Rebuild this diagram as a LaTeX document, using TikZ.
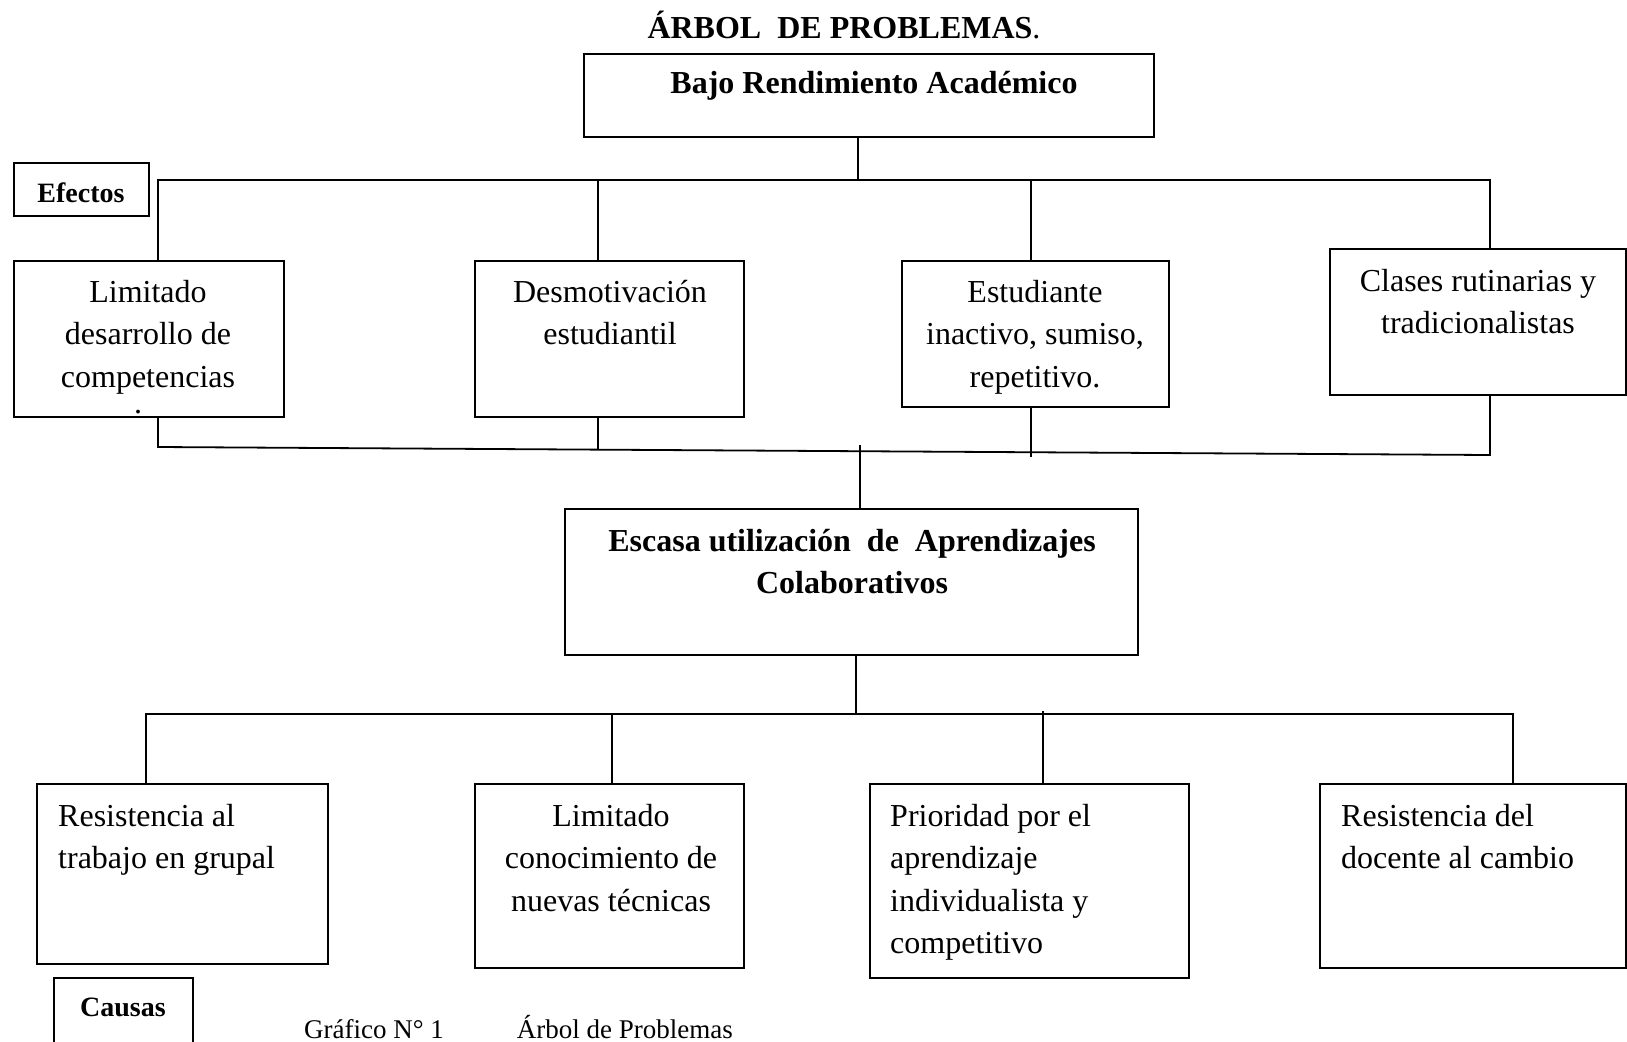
\documentclass[tikz,border=0pt]{standalone}
\usepackage{fontspec}
\setmainfont{Liberation Serif}
\usetikzlibrary{fit}

\tikzset{
  caja/.style={draw, line width=2pt, inner sep=0pt},
  rama/.style={line width=1.8pt},
  texto/.style={inner sep=0pt, font=\fontsize{32}{42.5}\selectfont},
  negrita/.style={inner sep=0pt, font=\fontsize{32}{42.5}\selectfont\bfseries},
  rotulo/.style={inner sep=0pt, font=\fontsize{28}{34}\selectfont\bfseries},
}

\begin{document}
\begin{tikzpicture}[x=1pt,y=-1pt]
	\useasboundingbox (0,0) rectangle (1627,1041);

	% Title
	\node[negrita, anchor=base] (titulo) at (844,39) {ÁRBOL\ \ DE PROBLEMAS\textmd{.}};

	% Main effect on top
	\node[caja, fit={(584,54) (1154,137)}] (bajo) {};
	\node[negrita, anchor=base] (bajot) at (874,93) {Bajo Rendimiento Académico};

	% Efectos label
	\node[caja, fit={(14,163) (149,216)}] (efectos) {};
	\node[rotulo, anchor=base] (efectost) at (81,202) {Efectos};

	% Effect boxes
	\node[caja, fit={(14,261) (284,417)}] (lim) {};
	\node[caja, fit={(475,261) (744,417)}] (des) {};
	\node[caja, fit={(902,261) (1169,407)}] (est) {};
	\node[caja, fit={(1330,249) (1626,395)}] (cla) {};

	\node[texto, align=center, anchor=north] (limt) at (148,280) {Limitado\\desarrollo de\\competencias};
	\node[texto, anchor=base] (punto) at (138,413) {.};
	\node[texto, align=center, anchor=north] (dest) at (610,280) {Desmotivación\\estudiantil};
	\node[texto, align=center, anchor=north] (estt) at (1035,280) {Estudiante\\inactivo, sumiso,\\repetitivo.};
	\node[texto, align=center, anchor=north] (clat) at (1478,269) {Clases rutinarias y\\tradicionalistas};

	% Branches from the top box down to the effects
	\coordinate (e0) at (858,180);
	\coordinate (e1) at (158,180);
	\coordinate (e2) at (598,180);
	\coordinate (e3) at (1031,180);
	\coordinate (e4) at (1490,180);
	\draw[rama] (bajo.south -| e0) -- (e0);
	\draw[rama] (lim.north -| e1) -- (e1) -- (e4) -- (cla.north -| e4);
	\draw[rama] (e2) -- (des.north -| e2);
	\draw[rama] (e3) -- (est.north -| e3);

	% Effects joined below (the line runs a little downhill)
	\coordinate (f1) at (158,447);
	\coordinate (f2) at (598,449);
	\coordinate (f3) at (1031,457);
	\coordinate (f4) at (1490,455);
	\draw[rama] (lim.south -| f1) -- (f1) -- (f4) -- (cla.south -| f4);
	\draw[rama] (des.south -| f2) -- (f2);
	\draw[rama] (est.south -| f3) -- (f3);

	% Central problem
	\node[caja, fit={(565,509) (1138,655)}] (esc) {};
	\node[negrita, align=center, anchor=north] (esct) at (852,529) {Escasa utilización\ \ de\ \ Aprendizajes\\Colaborativos};
	\coordinate (f0) at (860,445);
	\draw[rama] (f0) -- (esc.north -| f0);

	% Cause boxes
	\node[caja, fit={(37,784) (328,964)}] (res) {};
	\node[caja, fit={(475,784) (744,968)}] (con) {};
	\node[caja, fit={(870,784) (1189,978)}] (pri) {};
	\node[caja, fit={(1320,784) (1626,968)}] (doc) {};

	\node[texto, align=left, anchor=north west] (rest) at (58,804) {Resistencia al\\trabajo en grupal};
	\node[texto, align=center, anchor=north] (cont) at (611,804) {Limitado\\conocimiento de\\nuevas técnicas};
	\node[texto, align=left, anchor=north west] (prit) at (890,804) {Prioridad por el\\aprendizaje\\individualista y\\competitivo};
	\node[texto, align=left, anchor=north west] (doct) at (1341,804) {Resistencia del\\docente al cambio};

	% Branches from the central box down to the causes
	\coordinate (g0) at (856,714);
	\coordinate (g1) at (146,714);
	\coordinate (g2) at (612,714);
	\coordinate (g3) at (1043,711);
	\coordinate (g4) at (1513,714);
	\draw[rama] (esc.south -| g0) -- (g0);
	\draw[rama] (res.north -| g1) -- (g1) -- (g4) -- (doc.north -| g4);
	\draw[rama] (g2) -- (con.north -| g2);
	\draw[rama] (g3) -- (pri.north -| g3);

	% Causas label, cut by the page edge
	\node[caja, fit={(54,978) (193,1070)}] (causas) {};
	\node[rotulo, anchor=base] (causast) at (123,1016) {Causas};

	% Caption
	\node[texto, font=\fontsize{27}{32}\selectfont, anchor=base west] (grafico) at (304,1038) {Gráfico N° 1\hspace{2.7em}Árbol de Problemas};

\end{tikzpicture}
\end{document}
